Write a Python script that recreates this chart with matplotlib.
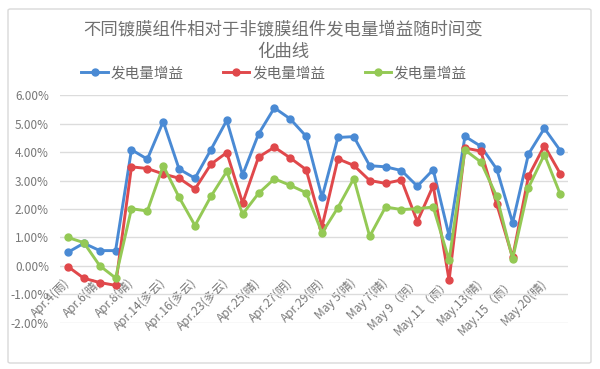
import numpy as np
import matplotlib
matplotlib.use("Agg")
import matplotlib.pyplot as plt
from matplotlib.patches import FancyBboxPatch
from matplotlib.ticker import FuncFormatter

plt.rcParams['font.family'] = ['Noto Sans CJK SC', 'DejaVu Sans']

# x labels (one label every second measurement day)
labels = ["Apr.4(雨)", "Apr.6(晴)", "Apr.8(晴)", "Apr.14(多云)", "Apr.16(多云)",
          "Apr.23(多云)", "Apr.25(晴)", "Apr.27(阴)", "Apr.29(阴)", "May 5(晴)",
          "May 7(晴)", "May 9（阴）", "May.11（雨）", "May.13(晴)", "May.15（雨）",
          "May.20(晴)"]

# gain in percent, 32 points
blue = [0.48, 0.80, 0.54, 0.54, 4.08, 3.75, 5.07, 3.40, 3.08, 4.08, 5.11, 3.20,
        4.63, 5.55, 5.16, 4.55, 2.41, 4.51, 4.54, 3.52, 3.48, 3.35, 2.80, 3.38,
        1.06, 4.55, 4.20, 3.40, 1.52, 3.93, 4.83, 4.05]
red = [-0.02, -0.43, -0.58, -0.68, 3.48, 3.42, 3.23, 3.08, 2.70, 3.57, 3.98, 2.21,
       3.82, 4.17, 3.79, 3.38, 1.38, 3.76, 3.53, 3.00, 2.90, 3.02, 1.56, 2.82,
       -0.50, 4.14, 4.03, 2.17, 0.30, 3.15, 4.22, 3.24]
green = [1.00, 0.82, 0.01, -0.42, 2.01, 1.93, 3.52, 2.41, 1.42, 2.44, 3.32, 1.82,
         2.55, 3.06, 2.83, 2.57, 1.16, 2.05, 3.07, 1.04, 2.07, 1.98, 2.01, 2.07,
         0.20, 4.07, 3.65, 2.44, 0.25, 2.75, 3.91, 2.52]
series_name = "发电量增益"

x = np.arange(len(blue))
gray = "#777777"

fig = plt.figure(figsize=(6, 3.69), dpi=100)
ax = fig.add_axes([0.1, 0.1247, 0.847, 0.6178])

# chart border
fig.patches.append(FancyBboxPatch((8 / 600, 6 / 369), 583 / 600, 354 / 369,
                                  boxstyle="round,pad=0,rounding_size=0.004",
                                  transform=fig.transFigure, fill=False,
                                  edgecolor="#d9d9d9", linewidth=1.0))

for vals, c in [(blue, "#4a8ad4"), (red, "#e0484b"), (green, "#94c955")]:
    ax.plot(x, vals, color=c, linewidth=2.1, marker="o", markersize=5,
            label=series_name)

ax.set_xlim(-0.5, len(x) - 0.5)
ax.set_ylim(-2, 6)
ax.set_yticks(np.arange(-2, 7, 1))
ax.yaxis.set_major_formatter(FuncFormatter(lambda v, p: f"{v:.2f}%"))
ax.grid(axis="y", color="#dcdcdc", linewidth=1.0)
ax.set_axisbelow(True)
for s in ax.spines.values():
    s.set_visible(False)
ax.spines['bottom'].set_position(('data', 0))

ax.set_xticks(x[::2])
ax.set_xticklabels(labels, rotation=45, ha="right", va="center",
                   rotation_mode="anchor")
ax.tick_params(axis="x", length=0, pad=11, labelsize=8.5, labelcolor=gray)
ax.tick_params(axis="y", length=0, pad=8, labelsize=8.5, labelcolor=gray)

fig.text(0.472, 0.945, "不同镀膜组件相对于非镀膜组件发电量增益随时间变\n化曲线",
         ha="center", va="top", fontsize=12.5, color="#707070",
         linespacing=1.35)

fig.legend(loc="center", bbox_to_anchor=(0.457, 0.802), ncol=3, frameon=False,
           fontsize=10.5, handlelength=1.8, handletextpad=0.2,
           columnspacing=2.7, labelcolor="#6a6a6a")

fig.savefig("out.png", dpi=100)
